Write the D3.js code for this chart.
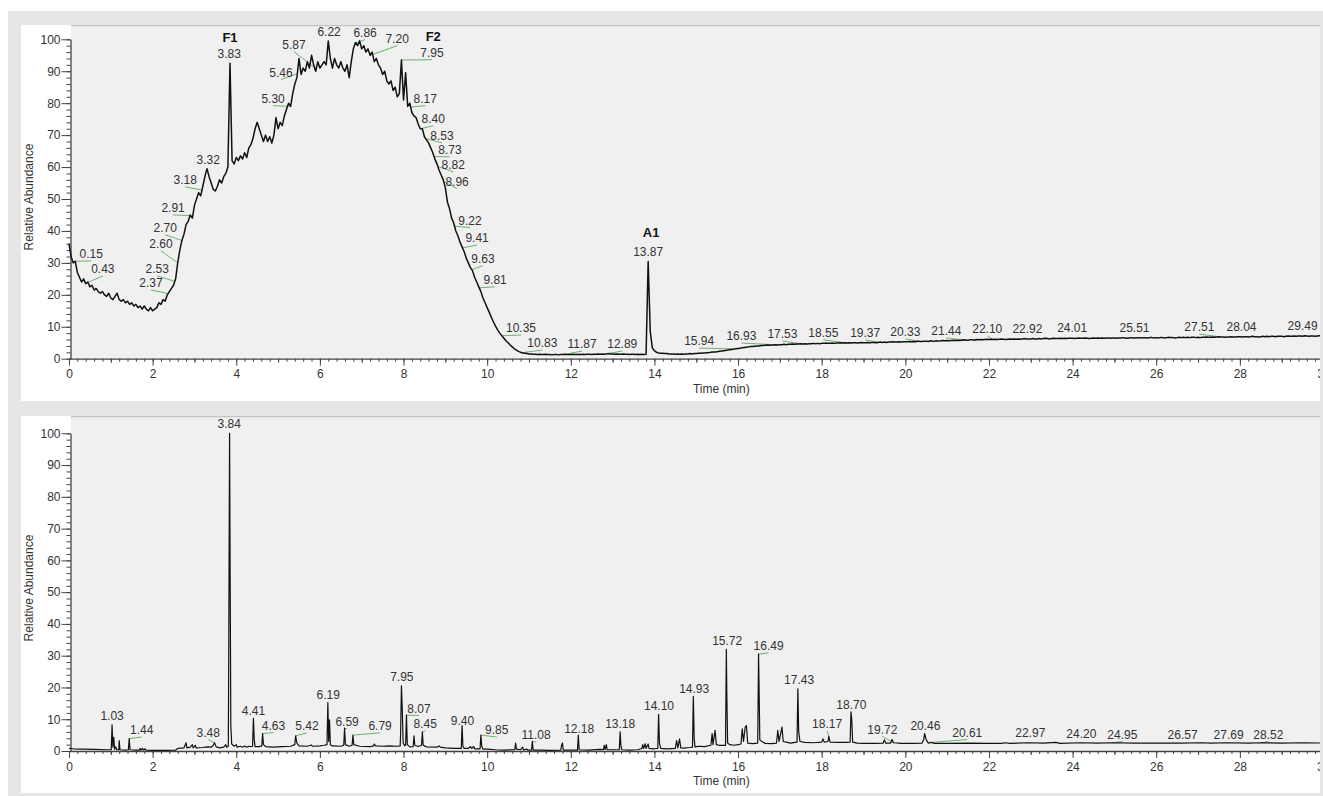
<!DOCTYPE html>
<html>
<head>
<meta charset="utf-8">
<script src="https://cdn.jsdelivr.net/npm/d3@7"></script>
<style>
  body { margin: 0; background: #fff; }
  svg { display: block; font-family: 'Liberation Sans', Arial, sans-serif; }
</style>
</head>
<body>
<div class="chart"></div>
<script>
var width = 1323,
  height = 796;

var xTickValues = [0, 2, 4, 6, 8, 10, 12, 14, 16, 18, 20, 22, 24, 26, 28, 30];
var yTickValues = [0, 10, 20, 30, 40, 50, 60, 70, 80, 90, 100];

// upper trace, sampled every 0.05 min from 0 to 30
var topStep = 0.05;
var topValues = [
  36, 32, 30, 30.5, 27, 25.5, 24, 25, 23.5, 24, 22.5, 23, 21.5, 22, 21, 20.5, 21, 20, 19.5, 20.5,
  19, 18.5, 19.5, 20.5, 18.5, 18, 18.5, 17.5, 18, 17, 17.5, 16.5, 17, 16, 16.5, 15.5, 16.5, 15.5, 15, 16,
  15, 15.5, 16, 17.5, 17, 18.5, 18, 20, 21, 22, 23, 25, 30, 34, 37, 39, 42, 43, 45, 44,
  48, 50, 52, 51, 54, 57, 59.5, 57, 55, 53, 52.5, 54, 56, 55, 57, 58, 60, 92.5, 62, 61,
  63, 62, 63.5, 62.5, 64.5, 63, 66, 67, 69, 72, 74, 72, 70, 68, 70, 68, 69.5, 67.5, 70, 75.5,
  72, 74, 73, 76, 78, 80, 79, 83, 86, 88, 94, 89, 91, 90, 93, 91, 95, 92, 90, 93,
  91, 92, 93, 92, 99.5, 94, 91, 94, 92, 91, 93, 91, 90, 92, 88, 93, 97, 99, 98, 99.5,
  97, 98, 96, 97, 95, 96, 93, 94, 92, 91, 89, 90, 87, 86, 87, 84, 85, 82, 83, 93.5,
  81, 89.5, 79, 80, 77, 76, 75.5, 73.5, 72, 72, 69.5, 68.5, 67.5, 66, 64.5, 62.5, 61, 59, 57.5, 56,
  53.5, 49, 47, 44, 42.5, 40, 38.5, 36.5, 35, 33.5, 31.5, 30, 28.5, 27.5, 25.5, 24, 22.5, 21, 19, 17.5,
  16, 14.5, 13, 11.5, 10.2, 9, 8, 7.2, 6.4, 5.6, 5, 4.3, 3.7, 3.1, 2.7, 2.3, 2, 1.8, 1.7, 1.6,
  1.5, 1.5, 1.4, 1.4, 1.3, 1.4, 1.3, 1.3, 1.4, 1.3, 1.3, 1.2, 1.3, 1.3, 1.2, 1.3, 1.3, 1.4, 1.3, 1.3,
  1.3, 1.4, 1.3, 1.3, 1.4, 1.3, 1.4, 1.3, 1.4, 1.4, 1.3, 1.4, 1.4, 1.5, 1.4, 1.5, 1.4, 1.5, 1.6, 1.5,
  1.5, 1.4, 1.5, 1.4, 1.4, 1.5, 1.4, 1.4, 1.3, 1.4, 1.4, 1.3, 1.4, 1.3, 1.4, 1.3, 1.4, 30.4, 8.5, 3.4,
  2.5, 2.0, 1.8, 1.7, 1.7, 1.6, 1.6, 1.5, 1.5, 1.5, 1.4, 1.5, 1.4, 1.5, 1.4, 1.5, 1.5, 1.6, 1.5, 1.6,
  1.6, 1.7, 1.7, 1.8, 1.8, 1.9, 1.9, 2.0, 2.1, 2.1, 2.2, 2.3, 2.4, 2.5, 2.6, 2.7, 2.8, 2.9, 3.0, 3.1,
  3.2, 3.3, 3.4, 3.5, 3.6, 3.7, 3.8, 3.8, 3.9, 4.0, 4.0, 4.1, 4.1, 4.2, 4.3, 4.2, 4.3, 4.3, 4.4, 4.3,
  4.4, 4.4, 4.5, 4.4, 4.5, 4.5, 4.6, 4.5, 4.6, 4.6, 4.7, 4.6, 4.7, 4.6, 4.7, 4.7, 4.8, 4.7, 4.8, 4.7,
  4.8, 4.8, 4.9, 4.8, 4.8, 4.9, 4.8, 4.9, 4.9, 5.0, 4.9, 5.0, 4.9, 5.0, 4.9, 5.0, 5.0, 4.9, 5.0, 5.1,
  5.0, 5.0, 5.1, 5.0, 5.1, 5.1, 5.0, 5.1, 5.2, 5.1, 5.2, 5.1, 5.2, 5.2, 5.3, 5.2, 5.2, 5.3, 5.2, 5.3,
  5.3, 5.3, 5.4, 5.3, 5.4, 5.3, 5.5, 5.4, 5.4, 5.5, 5.5, 5.4, 5.6, 5.5, 5.5, 5.6, 5.5, 5.6, 5.7, 5.6,
  5.7, 5.6, 5.7, 5.8, 5.7, 5.8, 5.7, 5.8, 5.9, 5.8, 5.8, 5.9, 5.9, 5.8, 6.0, 5.9, 6.0, 5.9, 6.0, 6.1,
  6.0, 6.1, 6.0, 6.1, 6.0, 6.1, 6.2, 6.1, 6.0, 6.1, 6.2, 6.1, 6.2, 6.1, 6.2, 6.1, 6.2, 6.3, 6.2, 6.2,
  6.2, 6.3, 6.2, 6.2, 6.3, 6.2, 6.3, 6.4, 6.3, 6.2, 6.3, 6.4, 6.3, 6.3, 6.4, 6.3, 6.4, 6.3, 6.4, 6.4,
  6.4, 6.3, 6.4, 6.5, 6.4, 6.4, 6.5, 6.4, 6.3, 6.4, 6.5, 6.4, 6.5, 6.4, 6.5, 6.4, 6.5, 6.5, 6.4, 6.5,
  6.5, 6.4, 6.5, 6.5, 6.6, 6.5, 6.4, 6.5, 6.6, 6.5, 6.5, 6.6, 6.5, 6.6, 6.5, 6.6, 6.5, 6.6, 6.6, 6.5,
  6.6, 6.5, 6.6, 6.6, 6.5, 6.6, 6.7, 6.6, 6.6, 6.5, 6.6, 6.7, 6.6, 6.7, 6.6, 6.7, 6.6, 6.7, 6.7, 6.6,
  6.7, 6.6, 6.7, 6.7, 6.8, 6.7, 6.7, 6.8, 6.7, 6.8, 6.9, 6.8, 6.8, 6.7, 6.8, 6.8, 6.9, 6.8, 6.8, 6.9,
  6.9, 6.8, 6.9, 6.9, 6.8, 6.9, 7.0, 6.9, 6.9, 6.8, 6.9, 7.0, 6.9, 7.0, 6.9, 7.0, 7.0, 6.9, 7.0, 7.0,
  7.0, 6.9, 7.0, 7.1, 7.0, 7.0, 7.1, 7.0, 7.1, 7.1, 7.0, 7.2, 7.1, 7.0, 7.1, 7.1, 7.0, 7.1, 7.2, 7.1,
  7.1
];

// lower trace, [time, abundance]
var bottomTrace = [
  [0, 0.8], [0.1, 0.7], [0.3, 0.6], [0.6, 0.5], [0.9, 0.4], [1.01, 0.4], [1.03, 8.2], [1.05, 1.2],
  [1.07, 4.3], [1.09, 0.6], [1.12, 1.3], [1.14, 0.4], [1.19, 0.4], [1.2, 3.3], [1.22, 0.4], [1.35, 0.3],
  [1.42, 0.4], [1.44, 3.9], [1.46, 0.4], [1.6, 0.3], [1.69, 0.3], [1.7, 0.8], [1.72, 0.3], [1.76, 0.8],
  [1.78, 0.3], [1.82, 0.7], [1.84, 0.3], [2.0, 0.2], [2.3, 0.2], [2.55, 0.3], [2.6, 0.8], [2.75, 1.0],
  [2.8, 2.6], [2.82, 1.0], [2.9, 1.2], [2.95, 2.0], [2.97, 1.0], [3.02, 1.8], [3.04, 1.0], [3.2, 1.1],
  [3.3, 1.3], [3.4, 1.2], [3.45, 1.8], [3.48, 2.6], [3.52, 1.3], [3.6, 1.0], [3.7, 1.2], [3.75, 2.0],
  [3.77, 1.2], [3.81, 1.5], [3.82, 30], [3.84, 100], [3.85, 66], [3.87, 8], [3.89, 2.2], [3.95, 1.5],
  [4.0, 2.0], [4.02, 1.2], [4.1, 1.5], [4.15, 1.2], [4.2, 1.6], [4.25, 1.2], [4.3, 1.5], [4.35, 1.4],
  [4.39, 1.5], [4.41, 10.3], [4.43, 3.5], [4.45, 1.4], [4.55, 1.4], [4.61, 1.6], [4.63, 5.5], [4.65, 2.0],
  [4.7, 1.4], [4.9, 1.2], [5.1, 1.4], [5.3, 1.5], [5.4, 2.0], [5.42, 4.8], [5.45, 2.5], [5.5, 1.6],
  [5.7, 1.5], [5.8, 1.9], [5.82, 1.5], [6.0, 1.6], [6.1, 1.8], [6.17, 2.0], [6.19, 15.2], [6.21, 3.0],
  [6.23, 9.8], [6.25, 2.0], [6.3, 1.6], [6.5, 1.5], [6.57, 1.8], [6.59, 7.2], [6.61, 2.0], [6.7, 1.5],
  [6.77, 1.8], [6.79, 5.0], [6.81, 2.0], [6.95, 1.5], [7.2, 1.4], [7.28, 1.6], [7.3, 2.2], [7.33, 1.6],
  [7.5, 1.5], [7.65, 1.6], [7.85, 1.5], [7.92, 1.6], [7.93, 5.5], [7.95, 20.5], [7.97, 13], [7.99, 2.5],
  [8.03, 1.6], [8.05, 2.0], [8.07, 11.3], [8.09, 2.0], [8.15, 1.3], [8.23, 1.4], [8.25, 4.8], [8.27, 1.8],
  [8.35, 1.4], [8.43, 1.8], [8.45, 6.0], [8.47, 1.8], [8.55, 1.3], [8.8, 1.2], [8.85, 1.6], [8.88, 1.2],
  [9.0, 1.0], [9.2, 0.8], [9.38, 0.8], [9.4, 8.0], [9.42, 1.5], [9.45, 0.8], [9.55, 0.8], [9.6, 1.4],
  [9.63, 0.8], [9.68, 1.4], [9.7, 0.7], [9.83, 0.7], [9.85, 5.0], [9.87, 1.5], [9.9, 0.6], [10.0, 0.6],
  [10.2, 0.4], [10.4, 0.3], [10.66, 0.4], [10.68, 2.5], [10.7, 0.6], [10.8, 0.4], [10.85, 1.2], [10.87, 0.3],
  [10.95, 0.6], [10.97, 0.3], [11.06, 0.3], [11.08, 3.0], [11.1, 0.3], [11.3, 0.3], [11.5, 0.2], [11.76, 0.3],
  [11.78, 1.8], [11.8, 2.5], [11.82, 0.3], [12.0, 0.3], [12.16, 0.3], [12.18, 5.0], [12.2, 0.4], [12.4, 0.3],
  [12.7, 0.5], [12.78, 0.4], [12.8, 1.8], [12.82, 0.4], [12.85, 2.0], [12.87, 0.4], [13.0, 0.4], [13.16, 0.4],
  [13.18, 6.0], [13.2, 1.5], [13.22, 0.4], [13.4, 0.3], [13.6, 0.4], [13.7, 0.8], [13.72, 2.0], [13.74, 0.8],
  [13.78, 2.3], [13.8, 0.8], [13.85, 2.2], [13.87, 0.8], [14.0, 0.7], [14.08, 0.8], [14.1, 11.5], [14.12, 2.5],
  [14.15, 0.8], [14.3, 0.7], [14.5, 0.8], [14.53, 3.3], [14.56, 1.0], [14.6, 3.8], [14.63, 1.0], [14.7, 0.9],
  [14.85, 1.1], [14.91, 1.2], [14.93, 17.2], [14.95, 4.0], [14.97, 1.3], [15.05, 1.5], [15.2, 1.4], [15.35, 1.8],
  [15.38, 5.5], [15.4, 2.0], [15.45, 6.5], [15.48, 2.0], [15.55, 1.8], [15.7, 1.8], [15.72, 32], [15.73, 19],
  [15.75, 2.5], [15.8, 2.0], [15.9, 1.8], [16.0, 2.0], [16.07, 2.2], [16.1, 7.0], [16.13, 3.0], [16.17, 7.5],
  [16.2, 8.0], [16.23, 2.5], [16.35, 2.3], [16.47, 2.5], [16.49, 30.5], [16.5, 22], [16.52, 3.5], [16.57, 3.0],
  [16.65, 2.4], [16.8, 2.3], [16.92, 2.5], [16.95, 6.5], [16.98, 3.0], [17.05, 7.5], [17.08, 3.0], [17.15, 2.8],
  [17.25, 2.5], [17.41, 2.8], [17.43, 19.6], [17.45, 6.0], [17.48, 3.0], [17.6, 2.7], [17.8, 2.6], [18.0, 2.8],
  [18.03, 3.8], [18.06, 2.8], [18.15, 3.0], [18.17, 4.6], [18.2, 2.8], [18.4, 2.7], [18.6, 2.7], [18.68, 2.8],
  [18.7, 12.3], [18.72, 9.5], [18.74, 2.8], [18.85, 2.5], [19.0, 2.4], [19.3, 2.4], [19.47, 2.5], [19.5, 3.5],
  [19.53, 2.5], [19.65, 2.5], [19.68, 3.6], [19.72, 2.6], [19.9, 2.4], [20.2, 2.4], [20.4, 2.5], [20.44, 3.6],
  [20.46, 5.5], [20.5, 3.5], [20.55, 2.5], [20.61, 2.7], [20.7, 2.4], [21.0, 2.4], [21.5, 2.5], [22.0, 2.4],
  [22.3, 2.4], [22.4, 2.6], [22.5, 2.4], [22.97, 2.6], [23.3, 2.5], [23.6, 2.7], [23.7, 2.4], [24.2, 2.6],
  [24.6, 2.5], [24.95, 2.6], [25.5, 2.5], [26.0, 2.5], [26.57, 2.5], [27.1, 2.6], [27.3, 2.5], [27.69, 2.6],
  [28.2, 2.5], [28.52, 2.6], [29.0, 2.5], [29.5, 2.6], [30.0, 2.5]
];

// peak annotations: retention time text, label centre (min, %), leader line flag
var topPeaks = ['0.15', '0.43', '2.37', '2.53', '2.60', '2.70', '2.91', '3.18', '3.32', '3.83',
  '5.30', '5.46', '5.87', '6.22', '6.86', '7.20', '7.95', '8.17', '8.40', '8.53',
  '8.73', '8.82', '8.96', '9.22', '9.41', '9.63', '9.81', '10.35', '10.83', '11.87',
  '12.89', '13.87', '15.94', '16.93', '17.53', '18.55', '19.37', '20.33', '21.44', '22.10',
  '22.92', '24.01', '25.51', '27.51', '28.04', '29.49'];
var topLabelT = [0.53, 0.81, 1.96, 2.11, 2.20, 2.30, 2.49, 2.78, 3.33, 3.83,
  4.88, 5.07, 5.38, 6.22, 7.08, 7.85, 8.68, 8.52, 8.71, 8.92,
  9.11, 9.19, 9.28, 9.59, 9.76, 9.90, 10.19, 10.81, 11.32, 12.27,
  13.23, 13.85, 15.07, 16.08, 17.06, 18.04, 19.04, 20.00, 20.98, 21.96,
  22.92, 23.99, 25.48, 27.03, 28.04, 29.50];
var topLabelV = [32.8, 28.1, 23.7, 28.1, 36.0, 41.0, 47.2, 56.0, 62.3, 95.5,
  81.4, 89.6, 98.3, 102.4, 102.1, 100.2, 95.8, 81.4, 75.1, 69.8,
  65.4, 60.7, 55.4, 43.2, 37.8, 31.3, 24.7, 9.6, 4.9, 4.6,
  4.6, 33.4, 5.5, 7.1, 7.7, 8.1, 8.1, 8.4, 8.7, 9.3,
  9.3, 9.6, 9.6, 9.9, 9.9, 10.3];
var topLeader = [1, 1, 1, 1, 1, 1, 1, 1, 0, 0,
  1, 1, 1, 0, 1, 1, 1, 1, 1, 1,
  1, 1, 1, 1, 1, 1, 1, 1, 1, 1,
  1, 0, 1, 1, 1, 1, 1, 1, 1, 1,
  0, 0, 0, 1, 0, 0];

var topTags = ['F1', 'F2', 'A1'];
var topTagT = [3.85, 8.71, 13.92];
var topTagV = [100.5, 100.8, 39.4];

var bottomPeaks = ['1.03', '1.44', '3.48', '3.84', '4.41', '4.63', '5.42', '6.19', '6.59', '6.79',
  '7.95', '8.07', '8.45', '9.40', '9.85', '11.08', '12.18', '13.18', '14.10', '14.93',
  '15.72', '16.49', '17.43', '18.17', '18.70', '19.72', '20.46', '20.61', '22.97', '24.20',
  '24.95', '26.57', '27.69', '28.52'];
var bottomLabelT = [1.03, 1.74, 3.33, 3.83, 4.41, 4.89, 5.69, 6.20, 6.65, 7.44,
  7.96, 8.37, 8.52, 9.41, 10.23, 11.17, 12.20, 13.18, 14.11, 14.95,
  15.74, 16.73, 17.46, 18.13, 18.71, 19.45, 20.48, 21.48, 22.99, 24.21,
  25.19, 26.63, 27.73, 28.68];
var bottomLabelV = [11.0, 6.6, 5.8, 102.9, 12.6, 8.0, 7.9, 17.6, 9.2, 7.9,
  23.4, 13.4, 8.5, 9.5, 6.6, 5.0, 7.1, 8.5, 14.2, 19.7,
  34.6, 33.1, 22.3, 8.5, 14.5, 6.8, 7.9, 5.8, 5.8, 5.5,
  5.2, 5.2, 5.2, 5.2];
var bottomLeader = [0, 1, 1, 0, 0, 1, 1, 0, 1, 1,
  0, 1, 1, 0, 1, 1, 0, 0, 0, 0,
  0, 1, 0, 1, 0, 1, 0, 1, 0, 0,
  1, 0, 0, 1];

var topTrace = topValues.map((v, i) => [i * topStep, v]);

var svgEl = d3
  .select('.chart')
  .append('svg')
  .attr('width', width)
  .attr('height', height);

svgEl
  .append('rect')
  .attr('x', 8)
  .attr('y', 11)
  .attr('width', width - 8)
  .attr('height', height - 11)
  .style('fill', '#e6e6e6');

var xScale = d3.scaleLinear().domain([0, 30]).range([69, 1323.5]);

function valueAt(trace, t) {
  var i = d3.bisector((d) => d[0]).left(trace, t);
  if (i <= 0) return trace[0][1];
  if (i >= trace.length) return trace[trace.length - 1][1];
  var a = trace[i - 1],
    b = trace[i];
  return a[1] + ((b[1] - a[1]) * (t - a[0])) / (b[0] - a[0]);
}

function drawPanel(p) {
  var yScale = d3.scaleLinear().domain([0, 100]).range([p.axisY, p.y100]);

  var g = svgEl.append('g');

  g.append('clipPath')
    .attr('id', p.id + '-clip')
    .append('rect')
    .attr('x', 21)
    .attr('y', p.top)
    .attr('width', 1299)
    .attr('height', p.bottom - p.top);

  var inner = g.append('g').attr('clip-path', 'url(#' + p.id + '-clip)');

  inner
    .append('rect')
    .attr('x', 21)
    .attr('y', p.top)
    .attr('width', 1299)
    .attr('height', p.bottom - p.top)
    .style('fill', '#ffffff');

  inner
    .append('rect')
    .attr('x', 71)
    .attr('y', p.top)
    .attr('width', 1249)
    .attr('height', p.axisY - p.top)
    .style('fill', '#f0f0f0');

  inner
    .append('line')
    .attr('x1', 71)
    .attr('x2', 1320)
    .attr('y1', p.top + 0.5)
    .attr('y2', p.top + 0.5)
    .style('stroke', '#c4c4c4')
    .style('stroke-width', 1.5);

  // x axis: minor, mid and major ticks
  var xMinor = d3.range(0, 30.001, 0.2);
  var xMid = d3.range(1, 30, 2);

  inner
    .append('g')
    .attr('transform', 'translate(0,' + p.axisY + ')')
    .call(d3.axisBottom(xScale).tickValues(xMinor).tickSize(3).tickSizeOuter(0).tickFormat(''))
    .call((a) => a.selectAll('line').style('stroke', '#444'))
    .call((a) => a.select('.domain').style('stroke', '#444').style('stroke-width', 1.3));

  inner
    .append('g')
    .attr('transform', 'translate(0,' + p.axisY + ')')
    .call(d3.axisBottom(xScale).tickValues(xMid).tickSize(4).tickFormat(''))
    .call((a) => a.select('.domain').remove())
    .call((a) => a.selectAll('line').style('stroke', '#444'));

  inner
    .append('g')
    .attr('transform', 'translate(0,' + p.axisY + ')')
    .call(d3.axisBottom(xScale).tickValues(xTickValues).tickSize(7).tickPadding(4).tickFormat(d3.format('d')))
    .call((a) => a.select('.domain').remove())
    .call((a) => a.selectAll('line').style('stroke', '#444'))
    .call((a) =>
      a
        .selectAll('text')
        .style('font-family', "'Liberation Sans', Arial, sans-serif")
        .style('font-size', '12px')
        .style('fill', '#333')
    );

  // y axis
  inner
    .append('g')
    .attr('transform', 'translate(70.5,0)')
    .call(d3.axisLeft(yScale).tickValues(d3.range(0, 100.001, 2)).tickSize(4).tickFormat('').tickSizeOuter(0))
    .call((a) => a.selectAll('line').style('stroke', '#444'))
    .call((a) => a.select('.domain').style('stroke', '#444').style('stroke-width', 1.3));

  inner
    .append('g')
    .attr('transform', 'translate(70.5,0)')
    .call(d3.axisLeft(yScale).tickValues(yTickValues).tickSize(9).tickPadding(1))
    .call((a) => a.select('.domain').remove())
    .call((a) => a.selectAll('line').style('stroke', '#444'))
    .call((a) =>
      a
        .selectAll('text')
        .style('font-family', "'Liberation Sans', Arial, sans-serif")
        .style('font-size', '12px')
        .style('fill', '#333')
    );

  inner
    .append('text')
    .attr('transform', 'translate(33,' + p.yTitle + ') rotate(-90)')
    .attr('text-anchor', 'middle')
    .style('font-size', '12px')
    .style('fill', '#333')
    .text('Relative Abundance');

  inner
    .append('text')
    .attr('x', xScale(15.6))
    .attr('y', p.axisY + 34)
    .attr('text-anchor', 'middle')
    .style('font-size', '12px')
    .style('fill', '#333')
    .text('Time (min)');

  // leader lines
  var leaderIdx = p.peaks.map((d, i) => i).filter((i) => p.leader[i]);
  inner
    .selectAll('.leader')
    .data(leaderIdx)
    .enter()
    .append('line')
    .attr('class', 'leader')
    .attr('x1', (i) => xScale(+p.peaks[i]))
    .attr('y1', (i) => yScale(valueAt(p.trace, +p.peaks[i])))
    .attr('x2', (i) => xScale(p.labelT[i]))
    .attr('y2', (i) => yScale(p.labelV[i]) + 7)
    .style('stroke', '#6cb26c')
    .style('stroke-width', 1);

  var line = d3
    .line()
    .x((d) => xScale(d[0]))
    .y((d) => yScale(d[1]));

  inner
    .append('path')
    .datum(p.trace)
    .attr('d', line)
    .style('fill', 'none')
    .style('stroke', '#111')
    .style('stroke-width', p.lineWidth)
    .style('stroke-linejoin', 'round');

  inner
    .selectAll('.peak')
    .data(p.peaks)
    .enter()
    .append('text')
    .attr('class', 'peak')
    .attr('x', (d, i) => xScale(p.labelT[i]))
    .attr('y', (d, i) => yScale(p.labelV[i]))
    .attr('dy', '0.35em')
    .attr('text-anchor', 'middle')
    .style('font-size', '12px')
    .style('fill', '#333')
    .text((d) => d);

  if (p.tags) {
    inner
      .selectAll('.tag')
      .data(p.tags)
      .enter()
      .append('text')
      .attr('class', 'tag')
      .attr('x', (d, i) => xScale(p.tagT[i]))
      .attr('y', (d, i) => yScale(p.tagV[i]))
      .attr('dy', '0.35em')
      .attr('text-anchor', 'middle')
      .style('font-size', '13px')
      .style('font-weight', 'bold')
      .style('fill', '#111')
      .text((d) => d);
  }
}

drawPanel({
  id: 'top',
  top: 25,
  bottom: 401,
  axisY: 358.7,
  y100: 39.3,
  yTitle: 197,
  lineWidth: 1.5,
  trace: topTrace,
  peaks: topPeaks,
  labelT: topLabelT,
  labelV: topLabelV,
  leader: topLeader,
  tags: topTags,
  tagT: topTagT,
  tagV: topTagV
});

drawPanel({
  id: 'bottom',
  top: 416,
  bottom: 793,
  axisY: 751,
  y100: 433.3,
  yTitle: 588,
  lineWidth: 1.2,
  trace: bottomTrace,
  peaks: bottomPeaks,
  labelT: bottomLabelT,
  labelV: bottomLabelV,
  leader: bottomLeader
});
</script>
</body>
</html>
